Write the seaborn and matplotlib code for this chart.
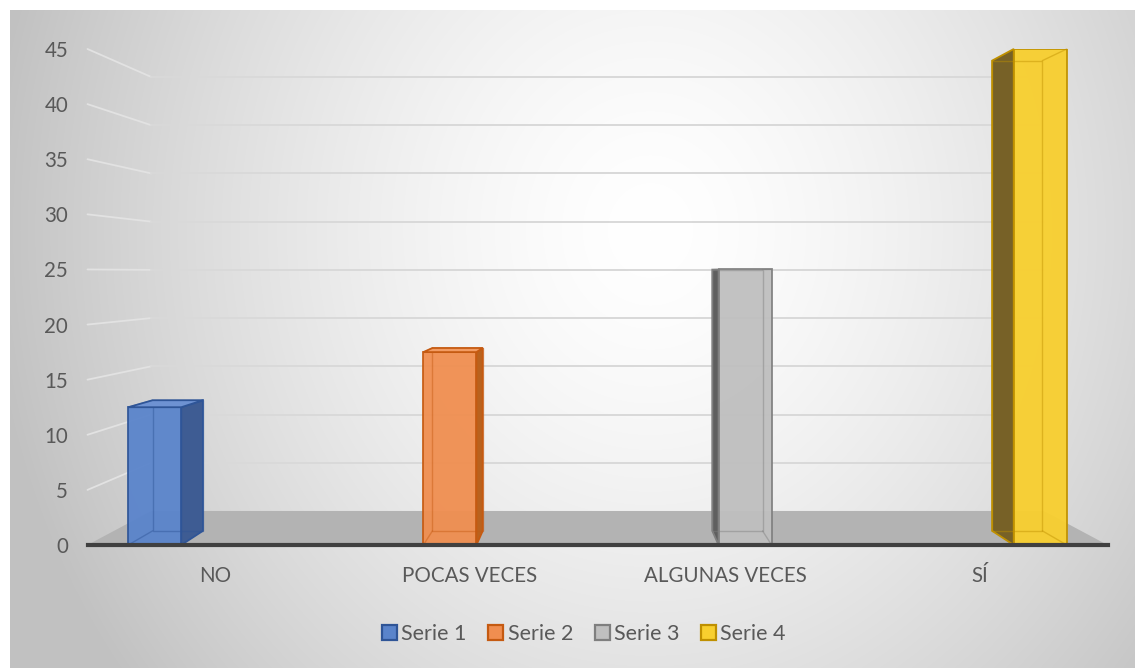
import numpy as np
import pandas as pd
import matplotlib
matplotlib.use("Agg")
import matplotlib.pyplot as plt
import seaborn as sns
from matplotlib.patches import Polygon, Patch, Rectangle

# ---------------- data ----------------
categories = ["NO", "POCAS VECES", "ALGUNAS VECES", "SÍ"]
series = ["Serie 1", "Serie 2", "Serie 3", "Serie 4"]
values = [12.5, 17.5, 25, 45]
y_ticks = [0, 5, 10, 15, 20, 25, 30, 35, 40, 45]

# ---------------- style ----------------
front_colors = ["#5A84CB", "#F08E50", "#BFBFBF", "#F8CF2E"]
edge_colors = ["#2F5597", "#C55A11", "#7F7F7F", "#BF9000"]
side_colors = ["#3E5C93", "#B9621E", "#5F5F5F", "#776127"]
top_colors = ["#6E92D2", "#F29B62", "#C8C8C8", "#F9DA55"]
text_color = "#595959"

W, H = 1135, 668
sns.set_theme(style="white")
plt.rcParams["font.family"] = ["Lato", "DejaVu Sans"]

fig = plt.figure(figsize=(W / 100, H / 100), dpi=100)
fig.patch.set_facecolor("white")

# background radial gradient (chart area, white margin top/left)
bg = fig.add_axes([10 / W, 0, 1 - 10 / W, 1 - 10 / H])
yy, xx = np.mgrid[10:H, 10:W]
cx, cy = 650, 230
d = np.sqrt(((xx - cx) / 630.0) ** 2 + ((yy - cy) / 700.0) ** 2)
val = 255 - 57 * np.clip(d, 0, 1.05) ** 1.5
img = np.dstack([val, val, val]) / 255.0
bg.imshow(np.clip(img, 0, 1), aspect="auto", extent=[0, 1, 0, 1], origin="upper")
bg.axis("off")

# main axes
ax = fig.add_axes([87.5 / W, 123 / H, 1020 / W, 496 / H])
ax.patch.set_alpha(0)

df = pd.DataFrame({"cat": categories, "serie": series, "val": values})
sns.barplot(data=df, x="cat", y="val", hue="serie", order=categories,
            hue_order=series, palette=dict(zip(series, front_colors)),
            width=0.63, dodge=True, saturation=1, legend=False, ax=ax,
            linewidth=1.3, zorder=3)
bars = sorted([p for p in ax.patches if isinstance(p, Rectangle) and p.get_height() > 0],
              key=lambda p: p.get_x())

ax.set_xlim(-0.5, 3.5)
ax.set_ylim(0, 45)

# perspective helpers (data coordinates)
VPX, VPY = 1.5, 24.7
R_BAR = 0.948
R_WALL = 0.875


def back(pt, f):
    return (VPX + f * (pt[0] - VPX), VPY + f * (pt[1] - VPY))


# gridlines on back wall
for v in y_ticks[1:]:
    p0 = (-0.5, v)
    p1 = back((-0.5, v), R_WALL)
    p2 = back((3.5, v), R_WALL)
    ax.plot([p0[0], p1[0]], [p0[1], p1[1]], color="#E2E2E2",
            lw=1.3, zorder=1, clip_on=False)
    ax.plot([p1[0], p2[0]], [p1[1], p2[1]], color="#D9D9D9",
            lw=1.4, zorder=1, clip_on=False)

# floor
floor = [(-0.5, 0), (3.5, 0), back((3.5, 0), R_WALL), back((-0.5, 0), R_WALL)]
ax.add_patch(Polygon(floor, closed=True, facecolor="#B3B3B3", edgecolor="none",
                     zorder=1.5, clip_on=False))

# style bars + 3D decoration
new_w = 0.208
for i, p in enumerate(bars):
    c = p.get_x() + p.get_width() / 2
    p.set_x(c - new_w / 2)
    p.set_width(new_w)
    p.set_edgecolor(edge_colors[i])
    p.set_alpha(0.95)
    p.set_zorder(3)
    xl, xr, h = c - new_w / 2, c + new_w / 2, p.get_height()
    xs = xr if c < VPX else xl
    side = [(xs, 0), (xs, h), back((xs, h), R_BAR), back((xs, 0), R_BAR)]
    ax.add_patch(Polygon(side, closed=True, facecolor=side_colors[i],
                         edgecolor=edge_colors[i], lw=1.3, zorder=2.8, clip_on=False))
    if h < VPY:
        top = [(xl, h), (xr, h), back((xr, h), R_BAR), back((xl, h), R_BAR)]
        ax.add_patch(Polygon(top, closed=True, facecolor=top_colors[i],
                             edgecolor=edge_colors[i], lw=1.3, zorder=3.5, clip_on=False))
    # faint hidden edges (transparent look)
    bk = [back((xl, 0), R_BAR), back((xr, 0), R_BAR), back((xr, h), R_BAR), back((xl, h), R_BAR)]
    ax.add_patch(Polygon(bk, closed=True, facecolor="none", edgecolor=edge_colors[i],
                         lw=1.0, alpha=0.45, zorder=3.3, clip_on=False))
    xh = xl if c < VPX else xr
    for yv in (0, h):
        b = back((xh, yv), R_BAR)
        ax.plot([xh, b[0]], [yv, b[1]], color=edge_colors[i], lw=1.0, alpha=0.45,
                zorder=3.3, clip_on=False)

# axes styling
for s in ["top", "right", "left"]:
    ax.spines[s].set_visible(False)
ax.spines["bottom"].set_color("#404040")
ax.spines["bottom"].set_linewidth(3)
ax.spines["bottom"].set_zorder(5)
ax.set_yticks(y_ticks)
ax.set_yticklabels([str(t) for t in y_ticks])
ax.tick_params(axis="both", length=0, labelsize=14.8, labelcolor=text_color)
ax.tick_params(axis="y", pad=14)
ax.tick_params(axis="x", pad=15)
ax.set_xlabel("")
ax.set_ylabel("")
ax.grid(False)

handles = [Patch(facecolor=fc, edgecolor=ec, lw=1.6) for fc, ec in zip(front_colors, edge_colors)]
leg = fig.legend(handles, series, loc="center", bbox_to_anchor=(0.5145, 0.0509),
                 ncol=4, frameon=False, handlelength=0.7, handleheight=0.7,
                 handletextpad=0.2, columnspacing=1.0, fontsize=15.5)
for t in leg.get_texts():
    t.set_color(text_color)

fig.savefig("out.png", dpi=100)
